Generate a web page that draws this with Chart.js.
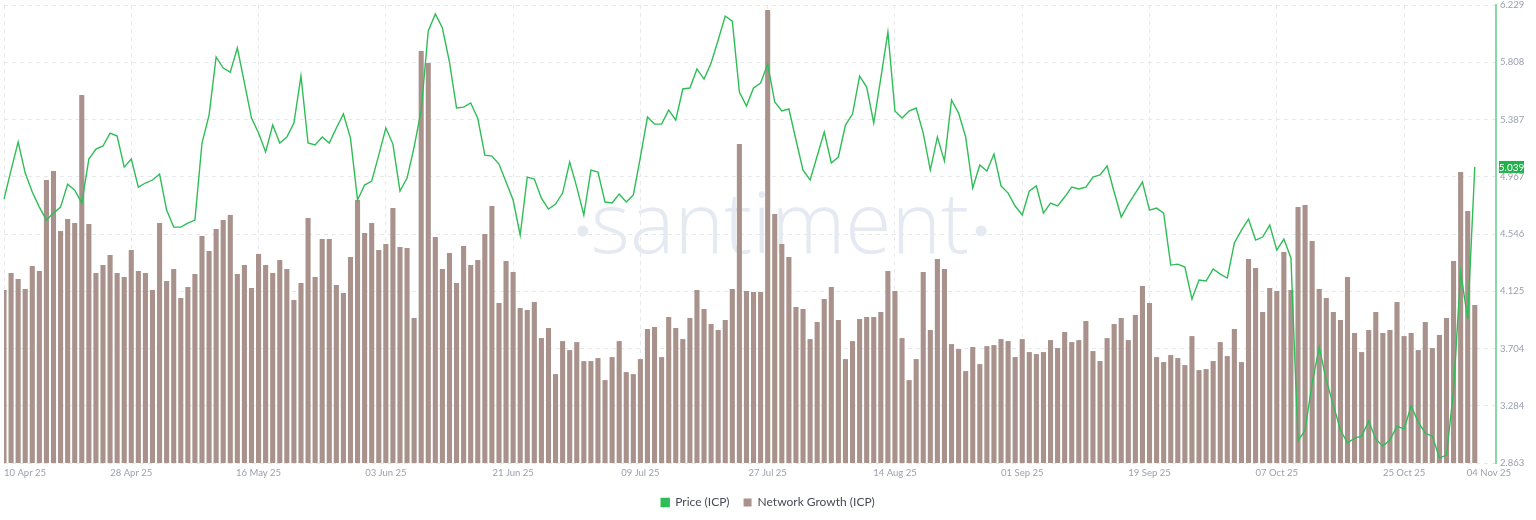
<!DOCTYPE html>
<html>
<head>
<meta charset="utf-8">
<title>ICP - Price vs Network Growth</title>
<script src="https://cdn.jsdelivr.net/npm/chart.js@4.4.1/dist/chart.umd.min.js"></script>
<style>
    html, body { margin: 0; padding: 0; background: #ffffff; }
    #wrap { position: relative; width: 1536px; height: 520px; }
</style>
</head>
<body>
<div id="wrap"><canvas id="chart"></canvas></div>
<script>
// Daily data from 10 Apr 25 to 04 Nov 25
const startDate = "2025-04-10";
const extraDays = 3; // empty days after the last point (the series stops before the price axis)

const priceICP = [
    4.803, 5.016, 5.222, 4.994, 4.855, 4.744, 4.649, 4.700, 4.744, 4.913,
    4.869, 4.774, 5.097, 5.171, 5.193, 5.288, 5.266, 5.038, 5.097, 4.891,
    4.921, 4.943, 4.987, 4.722, 4.597, 4.597, 4.627, 4.649, 5.215, 5.420,
    5.847, 5.766, 5.736, 5.913, 5.656, 5.398, 5.288, 5.149, 5.347, 5.215,
    5.259, 5.362, 5.707, 5.215, 5.200, 5.259, 5.215, 5.325, 5.428, 5.251,
    4.796, 4.906, 4.935, 5.126, 5.325, 5.207, 4.862, 4.957, 5.185, 5.457,
    6.038, 6.163, 6.060, 5.810, 5.472, 5.479, 5.509, 5.398, 5.126, 5.119,
    5.060, 4.928, 4.796, 4.539, 4.965, 4.950, 4.810, 4.730, 4.766, 4.847,
    5.075, 4.891, 4.686, 5.016, 5.002, 4.781, 4.774, 4.840, 4.781, 4.833,
    5.112, 5.406, 5.354, 5.354, 5.457, 5.384, 5.612, 5.619, 5.759, 5.685,
    5.803, 5.972, 6.148, 6.111, 5.589, 5.487, 5.619, 5.656, 5.795, 5.516,
    5.450, 5.465, 5.237, 5.016, 4.943, 5.119, 5.296, 5.068, 5.112, 5.347,
    5.428, 5.707, 5.626, 5.362, 5.692, 6.030, 5.450, 5.398, 5.450, 5.472,
    5.288, 5.016, 5.259, 5.082, 5.531, 5.435, 5.259, 4.884, 5.053, 5.009,
    5.134, 4.899, 4.847, 4.752, 4.686, 4.862, 4.899, 4.700, 4.774, 4.752,
    4.818, 4.891, 4.877, 4.891, 4.965, 4.980, 5.046, 4.855, 4.671, 4.766,
    4.847, 4.928, 4.722, 4.737, 4.700, 4.318, 4.325, 4.303, 4.068, 4.208,
    4.201, 4.289, 4.252, 4.223, 4.480, 4.575, 4.656, 4.502, 4.524, 4.612,
    4.428, 4.509, 4.370, 3.025, 3.106, 3.451, 3.715, 3.473, 3.289, 3.106,
    3.010, 3.047, 3.061, 3.172, 3.039, 2.988, 3.032, 3.135, 3.113, 3.282,
    3.164, 3.083, 3.061, 2.900, 2.922, 3.399, 4.267, 3.921, 5.039
];

const networkGrowth = [
    173, 190, 184, 174, 197, 192, 283, 292, 232, 244,
    240, 368, 239, 190, 198, 208, 190, 186, 213, 192,
    190, 173, 240, 182, 194, 165, 176, 189, 227, 212,
    234, 243, 248, 189, 198, 175, 209, 198, 190, 203,
    194, 163, 180, 245, 186, 224, 224, 178, 170, 206,
    263, 230, 240, 213, 219, 255, 216, 215, 145, 412,
    400, 226, 194, 210, 180, 217, 198, 203, 229, 257,
    160, 202, 191, 155, 153, 161, 125, 135, 89, 122,
    113, 121, 102, 102, 105, 83, 106, 122, 91, 89,
    104, 134, 136, 106, 146, 135, 124, 145, 173, 154,
    139, 133, 143, 174, 319, 172, 171, 171, 453, 249,
    219, 206, 156, 154, 124, 141, 164, 176, 143, 104,
    122, 144, 146, 146, 151, 192, 172, 125, 83, 104,
    191, 133, 204, 194, 119, 114, 92, 116, 99, 117,
    118, 124, 122, 106, 124, 111, 109, 111, 123, 115,
    131, 121, 123, 142, 112, 102, 125, 139, 145, 123,
    148, 177, 160, 106, 101, 108, 105, 98, 127, 93,
    94, 102, 121, 107, 134, 101, 204, 195, 151, 175,
    172, 211, 173, 256, 258, 222, 174, 165, 151, 143,
    186, 130, 111, 133, 151, 130, 133, 161, 127, 130,
    113, 141, 115, 128, 145, 202, 291, 252, 158
];

const xTickLabels = [
    "10 Apr 25", "28 Apr 25", "16 May 25", "03 Jun 25", "21 Jun 25", "09 Jul 25", "27 Jul 25",
    "14 Aug 25", "01 Sep 25", "19 Sep 25", "07 Oct 25", "25 Oct 25"
];
const lastTickLabel = "04 Nov 25"; // nudged right like in the original

const priceTicks = [2.863, 3.284, 3.704, 4.125, 4.546, 4.967, 5.387, 5.808, 6.229];
const growthMax = 458;

const monthNames = ["Jan", "Feb", "Mar", "Apr", "May", "Jun", "Jul", "Aug", "Sep", "Oct", "Nov", "Dec"];

const gridColor = "#e7e7ec";
const tickColor = "#9ba0b0";
const priceColor = "#2fbd57";
const growthColor = "#a8928b";

// Builds the day labels "DD Mon YY"
function buildDays(start, count) {
    const days = [];
    const d = new Date(start + "T00:00:00Z");
    for (let i = 0; i < count; i++) {
        const dd = String(d.getUTCDate()).padStart(2, "0");
        days.push(`${dd} ${monthNames[d.getUTCMonth()]} ${String(d.getUTCFullYear()).slice(2)}`);
        d.setUTCDate(d.getUTCDate() + 1);
    }
    return days;
}

const days = buildDays(startDate, priceICP.length + extraDays);
const lastTickIndex = days.length - 2;

function xLabelFor(index) {
    if (xTickLabels.includes(days[index]) && index < priceICP.length) return days[index];
    if (index === lastTickIndex) return lastTickLabel;
    return "";
}

// Faded "santiment" watermark behind the series
const watermark = {
    id: "watermark",
    beforeDatasetsDraw(chart) {
        const { ctx, chartArea } = chart;
        const cx = (chartArea.left + chartArea.right) / 2 + 30;
        const base = chartArea.top + 248;
        ctx.save();
        ctx.fillStyle = "#e5e9f2";
        ctx.font = "300 84px 'Open Sans'";
        ctx.textAlign = "center";
        ctx.textBaseline = "alphabetic";
        ctx.fillText("santiment", cx, base);
        const w = ctx.measureText("santiment").width;
        ctx.beginPath();
        ctx.arc(cx - w / 2 - 8, base - 22, 5.5, 0, Math.PI * 2);
        ctx.arc(cx + w / 2 + 12, base - 22, 5.5, 0, Math.PI * 2);
        ctx.fill();
        ctx.restore();
    }
};

// Green tag with the last price on the price axis
const lastPriceTag = {
    id: "lastPriceTag",
    afterDraw(chart) {
        const { ctx, chartArea } = chart;
        const last = priceICP[priceICP.length - 1];
        const y = chart.scales.y.getPixelForValue(last);
        const x = chartArea.right + 3;
        ctx.save();
        ctx.fillStyle = "#22b24c";
        ctx.fillRect(x, y - 6, 25, 12);
        ctx.fillStyle = "#ffffff";
        ctx.font = "10px Lato";
        ctx.textAlign = "center";
        ctx.textBaseline = "middle";
        ctx.fillText(last.toFixed(3), x + 12.5, y + 0.5);
        ctx.restore();
    }
};

function renderChart() {
    new Chart(document.getElementById("chart"), {
        type: "bar",
        data: {
            labels: days,
            datasets: [
                {
                    type: "line",
                    label: "Price (ICP)",
                    data: priceICP,
                    yAxisID: "y",
                    borderColor: priceColor,
                    backgroundColor: priceColor,
                    borderWidth: 1.4,
                    pointRadius: 0,
                    tension: 0,
                    order: 0
                },
                {
                    type: "bar",
                    label: "Network Growth (ICP)",
                    data: networkGrowth,
                    yAxisID: "yGrowth",
                    backgroundColor: growthColor,
                    categoryPercentage: 1,
                    barPercentage: 0.72,
                    order: 1
                }
            ]
        },
        options: {
            responsive: true,
            maintainAspectRatio: false,
            animation: false,
            layout: {
                autoPadding: false,
                padding: { top: 5, left: 0, right: 0, bottom: 1.5 }
            },
            scales: {
                x: {
                    offset: false,
                    grid: {
                        offset: false,
                        drawTicks: false,
                        color: (ctx) => (xLabelFor(ctx.index) && ctx.index < priceICP.length) ? gridColor : "transparent"
                    },
                    border: { display: false, dash: [4, 4] },
                    ticks: {
                        autoSkip: false,
                        maxRotation: 0,
                        align: "inner",
                        padding: 4,
                        color: tickColor,
                        font: { family: "Lato", size: 9.5 },
                        callback: (value, index) => xLabelFor(index)
                    }
                },
                y: {
                    position: "right",
                    min: priceTicks[0],
                    max: priceTicks[priceTicks.length - 1],
                    afterBuildTicks: (scale) => {
                        scale.ticks = priceTicks.map(v => ({ value: v }));
                    },
                    afterFit: (scale) => {
                        scale.width = 40;
                        scale.paddingTop = 0;
                        scale.paddingBottom = 0;
                    },
                    grid: { color: gridColor, drawTicks: false },
                    border: { color: "#86d8a4", width: 2, dash: [4, 4] },
                    ticks: {
                        padding: 4,
                        color: tickColor,
                        font: { family: "Lato", size: 9.5 },
                        callback: (value) => Number(value).toFixed(3)
                    }
                },
                yGrowth: {
                    display: false,
                    min: 0,
                    max: growthMax
                }
            },
            plugins: {
                tooltip: { enabled: false },
                legend: {
                    position: "bottom",
                    labels: {
                        boxWidth: 8,
                        boxHeight: 8,
                        padding: 14,
                        color: "#474b57",
                        font: { family: "Lato", size: 12 }
                    }
                }
            }
        },
        plugins: [watermark, lastPriceTag]
    });
}

document.addEventListener("DOMContentLoaded", renderChart);
</script>
</body>
</html>
